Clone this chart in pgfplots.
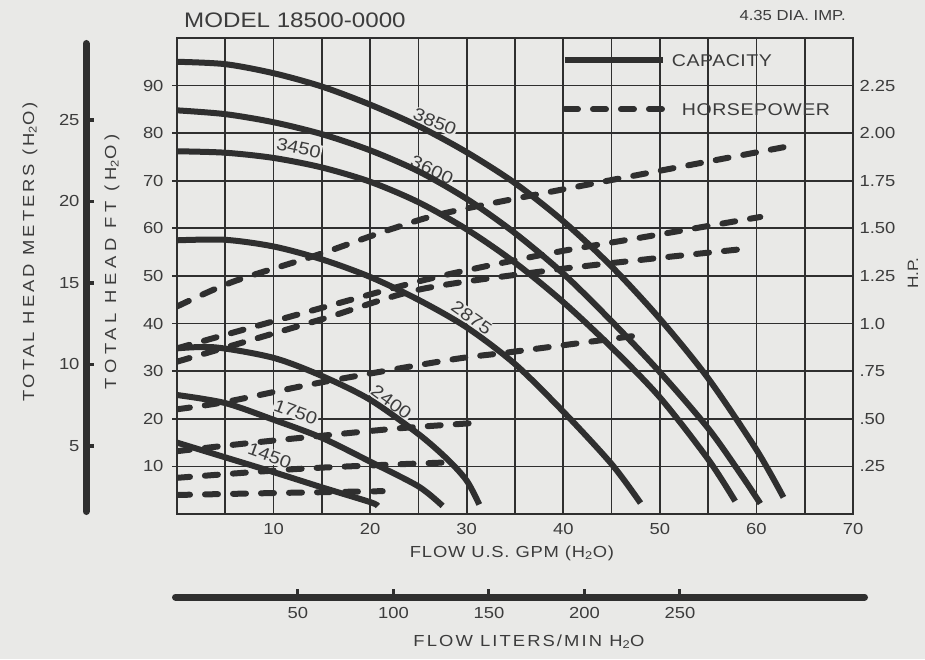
\documentclass[border=0pt]{standalone}
\usepackage{fontspec}
\setmainfont[FakeStretch=1.15]{Liberation Sans}
\usepackage{pgfplots}
\pgfplotsset{compat=1.18}
\definecolor{paper}{HTML}{E9E9E7}
\definecolor{ink}{HTML}{2F2F2F}
\definecolor{txt}{HTML}{3C3C3C}
\newcommand{\fs}[1]{\fontsize{#1}{#1}\selectfont}
\pgfplotsset{
  capline/.style={ink, line width=6pt, smooth},
  hpline/.style={ink, line width=6pt, dash pattern=on 13pt off 15pt, line cap=round, smooth},
}
\begin{document}
\begin{tikzpicture}
\path[use as bounding box, fill=paper] (0pt,0pt) rectangle (925pt,659pt);

% ---- meters scale
\begin{axis}[at={(86pt,147.5pt)}, anchor=south west, scale only axis, width=1pt, height=468pt,
  xmin=0, xmax=1, ymin=0.98, ymax=29.69, enlargelimits=false,
  hide x axis, axis y line*=left,
  y axis line style={ink, line width=7pt, line cap=round},
  ytick={5,10,15,20,25}, yticklabels={5,10,15,20,25},
  tick align=inside, major tick length=8pt, ytick style={ink, line width=3.5pt},
  yticklabel style={font=\fs{16}, text=txt, xshift=-3pt}]
\end{axis}

% ---- liters scale
\begin{axis}[at={(175.5pt,62pt)}, anchor=south west, scale only axis, width=689pt, height=1pt,
  xmin=-14.1, xmax=346.6, ymin=0, ymax=1, enlargelimits=false,
  hide y axis, axis x line*=bottom,
  x axis line style={ink, line width=7pt, line cap=round},
  xtick={50,100,150,200,250}, xticklabels={50,100,150,200,250},
  tick align=inside, major tick length=8pt, xtick style={ink, line width=3pt},
  xticklabel style={font=\fs{16}, text=txt, yshift=-7pt}]
\end{axis}

% ---- HP scale (right)
\begin{axis}[at={(177pt,145pt)}, anchor=south west, scale only axis, width=676pt, height=476pt,
  xmin=0, xmax=70, ymin=0, ymax=2.5, enlargelimits=false,
  axis line style={draw=none}, xtick=\empty, ytick pos=right,
  ytick={0.25,0.5,0.75,1,1.25,1.5,1.75,2,2.25},
  yticklabels={.25,.50,.75,1.0,1.25,1.50,1.75,2.00,2.25},
  major tick length=0pt,
  yticklabel style={font=\fs{16}, text=txt, xshift=3pt}]
\end{axis}

% ---- main chart
\begin{axis}[at={(177pt,145pt)}, anchor=south west, scale only axis, width=676pt, height=476pt,
  xmin=0, xmax=70, ymin=0, ymax=100, enlargelimits=false,
  xtick={10,20,30,40,50,60,70}, xticklabels={10,20,30,40,50,60,70},
  minor xtick={5,15,25,35,45,55,65},
  ytick={10,20,30,40,50,60,70,80,90}, yticklabels={10,20,30,40,50,60,70,80,90},
  grid=both,
  major grid style={ink, line width=1.8pt}, minor grid style={ink, line width=1.8pt},
  axis line style={ink, line width=2.2pt},
  xtick pos=bottom, ytick pos=left,
  tick align=outside, major tick length=5pt, minor tick length=0pt,
  xtick style={/pgfplots/major tick length=0pt},
  tick style={ink, line width=1.8pt},
  tick label style={font=\fs{16}, text=txt},
  xticklabel style={yshift=-1pt},
  yticklabel style={xshift=-5pt},
  legend style={at={(0.5695,0.967)}, anchor=north west, draw=none, fill=none,
    inner sep=0pt, outer sep=0pt, row sep=36pt, column sep=6pt,
    font=\fs{17}\addfontfeatures{LetterSpace=3}, text=txt,
    nodes={inner sep=0pt, text height=13pt, text depth=0pt},
    column 2/.style={nodes={fill=paper, inner xsep=4pt, inner ysep=6pt}}},
  legend cell align=left,
  legend image code/.code={\draw[#1] (0pt,0pt) -- (98pt,0pt);},
]
% curve labels
\begin{scope}[every node/.style={fill=paper, inner sep=1pt, text=txt, font=\fs{17.5}}]
\node[rotate=-22] at (axis cs:26.7,82.4) {3850};
\node[rotate=-25] at (axis cs:26.4,72.3) {3600};
\node[rotate=-12] at (axis cs:12.6,76.9) {3450};
\node[rotate=-35] at (axis cs:30.5,41.2) {2875};
\node[rotate=-36] at (axis cs:22.2,23.5) {2400};
\node[rotate=-20] at (axis cs:12.3,21.4) {1750};
\node[rotate=-20] at (axis cs:9.6,12.2) {1450};
\end{scope}

% capacity curves (GPM, ft)
\addplot[capline] coordinates {(0,95) (5,94.5) (10,92.6) (15,89.8) (20,86) (25,81.5) (30,76) (35,69.5) (40,61.5) (45,52) (50,41) (55,28.5) (60,13.5) (62.8,3.5)};
\addlegendentry{CAPACITY}
\addplot[capline, forget plot] coordinates {(0,84.8) (5,84) (10,82.3) (15,79.8) (20,76.4) (25,72) (30,66.2) (35,59) (40,50.5) (45,40.5) (50,29.8) (55,18) (58.5,8) (60.4,2.2)};
\addplot[capline, forget plot] coordinates {(0,76.2) (5,75.9) (10,74.8) (15,72.8) (20,69.8) (25,65.5) (30,59.8) (35,52.8) (40,44.5) (45,35) (50,24.5) (55,11.5) (57.8,2.7)};
\addplot[capline, forget plot] coordinates {(0,57.5) (5,57.6) (10,56.2) (15,53.5) (20,49.8) (25,45) (30,39.2) (35,31.5) (40,21.5) (45,10.5) (48,2.3)};
\addplot[capline, forget plot] coordinates {(0,34.8) (4,35) (10,32.8) (15,29) (20,24) (25,16.8) (28,11.5) (30,7) (31.3,2)};
\addplot[capline, forget plot] coordinates {(0,25) (5,23.3) (10,19.8) (15,16) (20,11) (25,5.8) (27.5,1.7)};
\addplot[capline, forget plot] coordinates {(0,15) (5,11.9) (10,8.8) (15,5.6) (20,2.5) (20.8,1.7)};

% horsepower curves (GPM, HP) plotted on the ft scale (1 HP = 40 ft on this chart)
\addplot[hpline] table[x index=0, y expr=\thisrowno{1}*40, row sep=\\] {0 1.09\\ 5.8 1.22\\ 14.5 1.36\\ 22.4 1.50\\ 28.6 1.59\\ 45.6 1.76\\ 63.2 1.93\\};
\addlegendentry{\hspace*{10pt}HORSEPOWER}
\addplot[hpline, forget plot] table[x index=0, y expr=\thisrowno{1}*40, row sep=\\] {0 0.87\\ 14.8 1.08\\ 26.5 1.24\\ 38.7 1.37\\ 49 1.46\\ 60.4 1.56\\};
\addplot[hpline, forget plot] table[x index=0, y expr=\thisrowno{1}*40, row sep=\\] {0 0.80\\ 14.8 1.02\\ 25.2 1.18\\ 38.7 1.28\\ 49 1.34\\ 58.3 1.39\\};
\addplot[hpline, forget plot] table[x index=0, y expr=\thisrowno{1}*40, row sep=\\] {0 0.55\\ 5.2 0.59\\ 14.8 0.69\\ 28.3 0.81\\ 34.5 0.85\\ 47.3 0.935\\};
\addplot[hpline, forget plot] table[x index=0, y expr=\thisrowno{1}*40, row sep=\\] {0 0.33\\ 7 0.37\\ 14.8 0.41\\ 23 0.45\\ 31.4 0.48\\};
\addplot[hpline, forget plot] table[x index=0, y expr=\thisrowno{1}*40, row sep=\\] {0 0.19\\ 12 0.235\\ 20 0.255\\ 27.5 0.27\\};
\addplot[hpline, forget plot] table[x index=0, y expr=\thisrowno{1}*40, row sep=\\] {0 0.10\\ 10 0.11\\ 21.3 0.12\\};
\end{axis}

% ---- titles and axis labels
\node[font=\fs{21}, text=txt, anchor=base west, inner sep=0pt] at (184pt,631pt) {MODEL 18500-0000};
\node[font=\fs{14.5}, text=txt, anchor=base east, inner sep=0pt] at (846pt,638pt) {4.35 DIA. IMP.};
\node[rotate=90, font=\fs{16}\addfontfeatures{LetterSpace=19}, text=txt] at (30pt,407pt) {TOTAL HEAD METERS (H\textsubscript{2}O)};
\node[rotate=90, font=\fs{16}\addfontfeatures{LetterSpace=29}, text=txt] at (112pt,397pt) {TOTAL HEAD FT (H\textsubscript{2}O)};
\node[rotate=90, font=\fs{15}, text=txt] at (913pt,386pt) {H.P.};
\node[font=\fs{16}\addfontfeatures{LetterSpace=5}, text=txt, anchor=base] at (512pt,102pt) {FLOW U.S. GPM (H\textsubscript{2}O)};
\node[font=\fs{16}\addfontfeatures{LetterSpace=13}, text=txt, anchor=base] at (529pt,13pt) {FLOW LITERS/MIN H\textsubscript{2}O};
\end{tikzpicture}
\end{document}
